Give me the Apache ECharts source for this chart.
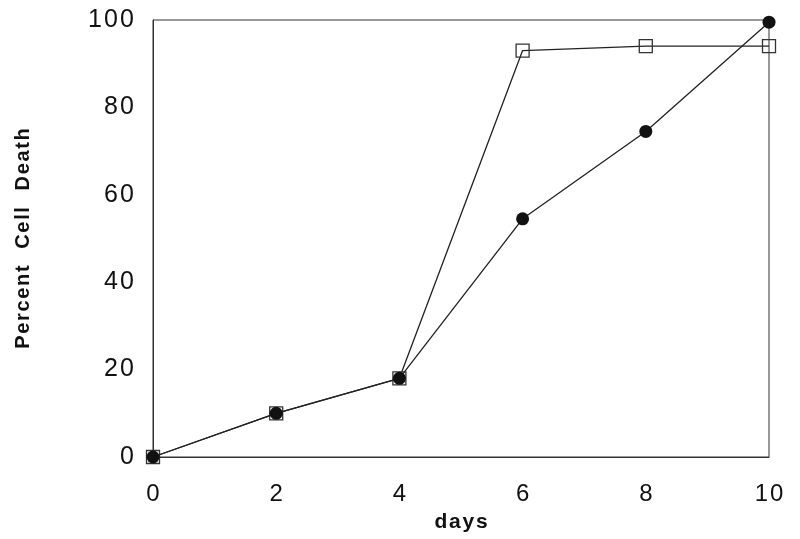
<!DOCTYPE html>
<html>
<head>
<meta charset="utf-8">
<script src="https://cdn.jsdelivr.net/npm/echarts@6/dist/echarts.min.js"></script>
<style>
  html, body { margin: 0; padding: 0; background: #fff; }
  #chart { width: 800px; height: 539px; }
</style>
</head>
<body>
<div id="chart"></div>
<script>
// data
var days = [0, 2, 4, 6, 8, 10];
var circleDeath = [0, 10, 18, 54.5, 74.5, 99.5];
var squareDeath = [0, 10, 18, 93, 94, 94];
var yTicks = [0, 20, 40, 60, 80, 100];

function pairs(xs, ys) {
  return xs.map(function (x, i) { return [x, ys[i]]; });
}
// the scan has slightly loose lettering, fake it with hair spaces
function spaced(s) {
  return String(s).split('').join('\u200A');
}

var font = 'Liberation Sans, Arial, Helvetica, sans-serif';

var option = {
  animation: false,
  backgroundColor: '#fff',
  grid: {
    left: 153,
    right: 31,
    top: 20,
    bottom: 82,
    show: true,
    borderColor: '#333',
    borderWidth: 1
  },
  xAxis: {
    type: 'value',
    min: 0,
    max: 10,
    interval: 2,
    name: spaced('days'),
    nameLocation: 'middle',
    nameGap: 55,
    nameTextStyle: { fontFamily: font, fontWeight: 'bold', fontSize: 21, color: '#111' },
    axisLine: { show: true, lineStyle: { color: '#333', width: 1 } },
    axisTick: { show: false },
    splitLine: { show: false },
    axisLabel: { margin: 25, fontFamily: font, fontSize: 24, color: '#111', formatter: spaced }
  },
  yAxis: {
    type: 'value',
    min: yTicks[0],
    max: yTicks[yTicks.length - 1],
    interval: 20,
    name: ['Percent', 'Cell', 'Death'].map(spaced).join('   '),
    nameLocation: 'middle',
    nameGap: 120,
    nameTextStyle: { fontFamily: font, fontWeight: 'bold', fontSize: 20, color: '#111' },
    axisLine: { show: true, lineStyle: { color: '#333', width: 1 } },
    axisTick: { show: false },
    splitLine: { show: false },
    axisLabel: { margin: 19, fontFamily: font, fontSize: 25, color: '#111', formatter: spaced }
  },
  series: [
    {
      name: 'squares',
      type: 'line',
      data: pairs(days, squareDeath),
      symbol: 'rect',
      symbolSize: 13,
      lineStyle: { color: '#222', width: 1.3 },
      itemStyle: { color: 'rgba(255,255,255,0)', borderColor: '#333', borderWidth: 1.3 },
      z: 2
    },
    {
      name: 'circles',
      type: 'line',
      data: pairs(days, circleDeath),
      symbol: 'circle',
      symbolSize: 13,
      lineStyle: { color: '#222', width: 1.3 },
      itemStyle: { color: '#111', borderColor: '#111', borderWidth: 0 },
      z: 3
    }
  ]
};

var myChart = echarts.init(document.getElementById('chart'));
myChart.setOption(option);
</script>
</body>
</html>
